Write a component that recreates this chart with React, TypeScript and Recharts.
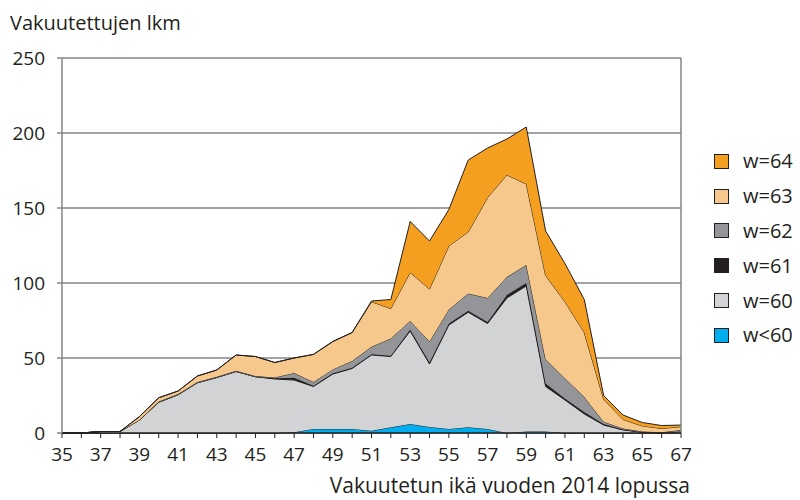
import React from "react";
import {
  AreaChart,
  Area,
  XAxis,
  YAxis,
  CartesianGrid,
  ReferenceLine,
  Legend,
} from "recharts";

const ages = [
  35, 36, 37, 38, 39, 40, 41, 42, 43, 44, 45, 46, 47, 48, 49, 50, 51, 52, 53,
  54, 55, 56, 57, 58, 59, 60, 61, 62, 63, 64, 65, 66, 67,
];
const wLt60 = [
  0, 0, 0, 0, 0, 0, 0, 0, 0, 0, 0, 0, 0.5, 2.7, 2.7, 2.7, 1.5, 3.8, 6, 4, 2.7,
  3.8, 2.7, 0, 1, 1, 0, 0, 0, 0, 0, 0, 0,
];
const w60 = [
  0, 0, 1, 1, 8.7, 20.5, 25.5, 33.5, 37, 41, 37.5, 36, 34.8, 28.3, 36.6, 40.3,
  50.5, 47.2, 62, 42, 69.3, 76.7, 70.3, 90, 97, 30, 22, 12.7, 5.3, 2, 0.5, 0, 1,
];
const w61 = [
  0, 0, 0, 0, 0, 0, 0, 0, 0, 0, 0, 0.5, 1.5, 0.5, 0.5, 0.5, 0.5, 0.5, 1, 1, 1,
  1, 1, 2, 2, 2, 1, 1.3, 0.7, 0.3, 0, 0, 0,
];
const w62 = [
  0, 0, 0, 0, 0, 0.5, 0.5, 0.5, 0.5, 0.5, 0.5, 0.5, 3.2, 2.5, 2.6, 4.5, 5, 11.5,
  5.7, 14, 9.4, 11.5, 16, 12, 12, 16, 13.5, 10, 1.5, 0.7, 0.5, 0.5, 1,
];
const w63 = [
  0, 0, 0, 0, 2.2, 2.5, 2, 4, 4.5, 10.5, 13, 10, 10, 18.4, 18.6, 19, 30, 20,
  32.3, 35, 42.3, 41, 67, 68, 54, 56, 51, 43, 15, 6, 3.7, 2.5, 2.2,
];
const w64 = [
  0, 0, 0, 0, 0, 0, 0, 0, 0, 0, 0, 0, 0, 0, 0, 0, 0.5, 6, 34, 32, 24.3, 48, 33,
  24, 38, 29.7, 25.5, 22, 2.5, 3, 2.3, 2, 1.1,
];

const yTicks = [0, 50, 100, 150, 200, 250];
const xTicks = ages;

const seriesKeys = ["wLt60", "w60", "w61", "w62", "w63", "w64"];
const seriesNames = ["w<60", "w=60", "w=61", "w=62", "w=63", "w=64"];
const seriesColors = ["#00AEEF", "#D1D3D4", "#231F20", "#939598", "#F6C88B", "#F59F20"];

const data = ages.map((age, i) => ({
  age,
  wLt60: wLt60[i],
  w60: w60[i],
  w61: w61[i],
  w62: w62[i],
  w63: w63[i],
  w64: w64[i],
}));

const FONT = "'Open Sans', 'Noto Sans', sans-serif";
const INK = "#231F20";

const LegendContent = () => (
  <div style={{ fontFamily: FONT }}>
    {seriesKeys
      .map((k, i) => ({ k, name: seriesNames[i], color: seriesColors[i] }))
      .reverse()
      .map((s) => (
        <div
          key={s.k}
          style={{ display: "flex", alignItems: "center", height: 34.8 }}
        >
          <div
            style={{
              width: 13,
              height: 13,
              background: s.color,
              border: `1px solid ${INK}`,
              marginRight: 14,
            }}
          />
          <span style={{ fontSize: 20, color: INK, lineHeight: "20px" }}>
            {s.name}
          </span>
        </div>
      ))}
  </div>
);

export default function App() {
  return (
    <div style={{ position: "absolute", left: 0, top: 0, width: 800, height: 500, background: "#fff" }}>
      <AreaChart
        width={800}
        height={500}
        data={data}
        margin={{ top: 58, right: 33, left: 0, bottom: 37 }}
      >
        <CartesianGrid
          horizontal={true}
          vertical={false}
          stroke="#858585"
          strokeWidth={1.5}
        />
        <XAxis
          dataKey="age"
          type="number"
          domain={[35, 67]}
          ticks={xTicks}
          interval={0}
          height={30}
          tickFormatter={(v: number) => (v % 2 === 1 ? String(v) : "")}
          tickSize={5}
          tickMargin={10}
          tickLine={{ stroke: INK }}
          axisLine={{ stroke: INK, strokeWidth: 1.5 }}
          tick={{ fontFamily: FONT, fontSize: 19, fill: INK }}
        />
        <YAxis
          type="number"
          domain={[0, 250]}
          ticks={yTicks}
          width={62}
          tickSize={5}
          tickMargin={12}
          tickLine={{ stroke: "#858585", strokeWidth: 1.5 }}
          axisLine={{ stroke: "#858585", strokeWidth: 1.5 }}
          tick={{ fontFamily: FONT, fontSize: 19, fill: INK }}
        />
        <ReferenceLine x={67} stroke="#858585" strokeWidth={1.5} />
        {seriesKeys.map((k, i) => (
          <Area
            key={k}
            type="linear"
            dataKey={k}
            name={seriesNames[i]}
            stackId="1"
            fill={seriesColors[i]}
            fillOpacity={1}
            stroke={INK}
            strokeWidth={1}
            dot={false}
            activeDot={false}
            isAnimationActive={false}
          />
        ))}
        <Legend
          layout="vertical"
          verticalAlign="top"
          align="right"
          content={<LegendContent />}
          wrapperStyle={{ position: "absolute", left: 714, top: 144, width: 86 }}
        />
      </AreaChart>
      <svg
        width={800}
        height={500}
        style={{ position: "absolute", left: 0, top: 0, pointerEvents: "none" }}
      >
        <text x={10} y={30} fontFamily={FONT} fontSize={20} fill={INK}>
          Vakuutettujen lkm
        </text>
        <text
          x={690}
          y={493}
          textAnchor="end"
          fontFamily={FONT}
          fontSize={21}
          fill={INK}
        >
          Vakuutetun ikä vuoden 2014 lopussa
        </text>
      </svg>
    </div>
  );
}
